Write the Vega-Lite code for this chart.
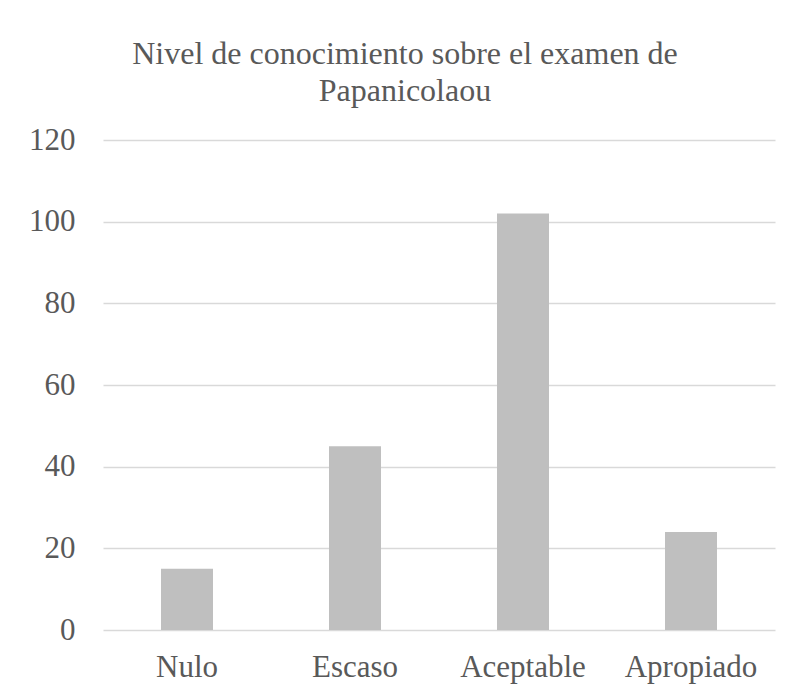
{
  "$schema": "https://vega.github.io/schema/vega-lite/v6.json",
  "width": 672,
  "height": 490,
  "autosize": {"type": "none"},
  "padding": {"left": 103, "top": 140, "right": 20, "bottom": 65},
  "background": "white",
  "title": {
    "text": ["Nivel de conocimiento sobre el examen de", "Papanicolaou"],
    "font": "Liberation Serif",
    "fontSize": 32,
    "fontWeight": "normal",
    "color": "#595959",
    "anchor": "middle",
    "lineHeight": 37,
    "dx": -34,
    "offset": 16
  },
  "data": {
    "values": [
      {"nivel": "Nulo", "valor": 15},
      {"nivel": "Escaso", "valor": 45},
      {"nivel": "Aceptable", "valor": 102},
      {"nivel": "Apropiado", "valor": 24}
    ]
  },
  "mark": {"type": "bar", "color": "#BFBFBF", "width": 52},
  "encoding": {
    "x": {
      "field": "nivel",
      "type": "nominal",
      "sort": null,
      "scale": {"paddingInner": 0, "paddingOuter": 0},
      "axis": {
        "title": null,
        "labelAngle": 0,
        "domain": false,
        "ticks": false,
        "labelFont": "Liberation Serif",
        "labelFontSize": 31,
        "labelColor": "#595959",
        "labelPadding": 22
      }
    },
    "y": {
      "field": "valor",
      "type": "quantitative",
      "scale": {"domain": [0, 120]},
      "axis": {
        "values": [0, 20, 40, 60, 80, 100, 120],
        "title": null,
        "domain": false,
        "ticks": false,
        "gridColor": "#D9D9D9",
        "gridWidth": 1.5,
        "labelFont": "Liberation Serif",
        "labelFontSize": 31,
        "labelColor": "#595959",
        "labelPadding": 28
      }
    }
  },
  "config": {"view": {"stroke": null}}
}
